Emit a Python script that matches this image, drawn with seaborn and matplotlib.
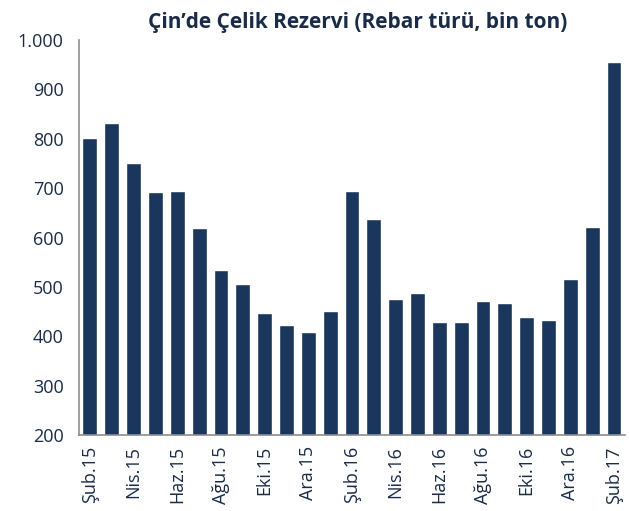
import numpy as np
import pandas as pd
import seaborn as sns
import matplotlib.pyplot as plt

months = ['Şub.15', 'Mar.15', 'Nis.15', 'May.15', 'Haz.15', 'Tem.15', 'Ağu.15', 'Eyl.15',
          'Eki.15', 'Kas.15', 'Ara.15', 'Oca.16', 'Şub.16', 'Mar.16', 'Nis.16', 'May.16',
          'Haz.16', 'Tem.16', 'Ağu.16', 'Eyl.16', 'Eki.16', 'Kas.16', 'Ara.16', 'Oca.17',
          'Şub.17']
stock = [802, 832, 751, 692, 695, 619, 534, 506, 447, 423, 408, 451, 695, 637, 475, 487,
         428, 428, 472, 467, 439, 432, 515, 621, 955]

bar_color = '#1b365d'
text_color = '#1a2b48'
spine_color = '#8c8c8c'

sns.set_style('white')
plt.rcParams['font.family'] = ['Open Sans', 'DejaVu Sans']

df = pd.DataFrame({'month': months, 'stock': stock})

fig = plt.figure(figsize=(6.29, 5.11), dpi=100)
ax = fig.add_axes([0.1256, 0.1487, 0.868, 0.773])
sns.barplot(data=df, x='month', y='stock', color=bar_color, width=0.68,
            saturation=1, ax=ax)

ax.set_ylim(200, 1000)
ax.set_xlim(-0.5, len(months) - 0.5)
ax.set_yticks(np.arange(200, 1001, 100))
ax.set_yticklabels([f'{v:,}'.replace(',', '.') for v in range(200, 1001, 100)],
                   fontsize=13, color=text_color)

# labels under every other month, ticks at the category boundaries
ax.set_xticks(np.arange(0, len(months), 2))
ax.set_xticklabels(months[::2], rotation=90, fontsize=13, color=text_color)
ax.tick_params(axis='x', length=0, pad=8)
ax.set_xticks(np.arange(-0.5, len(months) - 1, 2), minor=True)
ax.tick_params(axis='x', which='minor', length=5, width=1, color=spine_color)
ax.tick_params(axis='y', length=5, width=1, color=spine_color, pad=6)

for side in ['top', 'right']:
    ax.spines[side].set_visible(False)
for side in ['left', 'bottom']:
    ax.spines[side].set_color(spine_color)
    ax.spines[side].set_linewidth(1.2)

ax.set_xlabel('')
ax.set_ylabel('')
ax.set_title('Çin’de Çelik Rezervi (Rebar türü, bin ton)', fontsize=15,
             fontweight='bold', color=text_color, pad=9, x=0.51)

fig.savefig('out.png', dpi=100)
